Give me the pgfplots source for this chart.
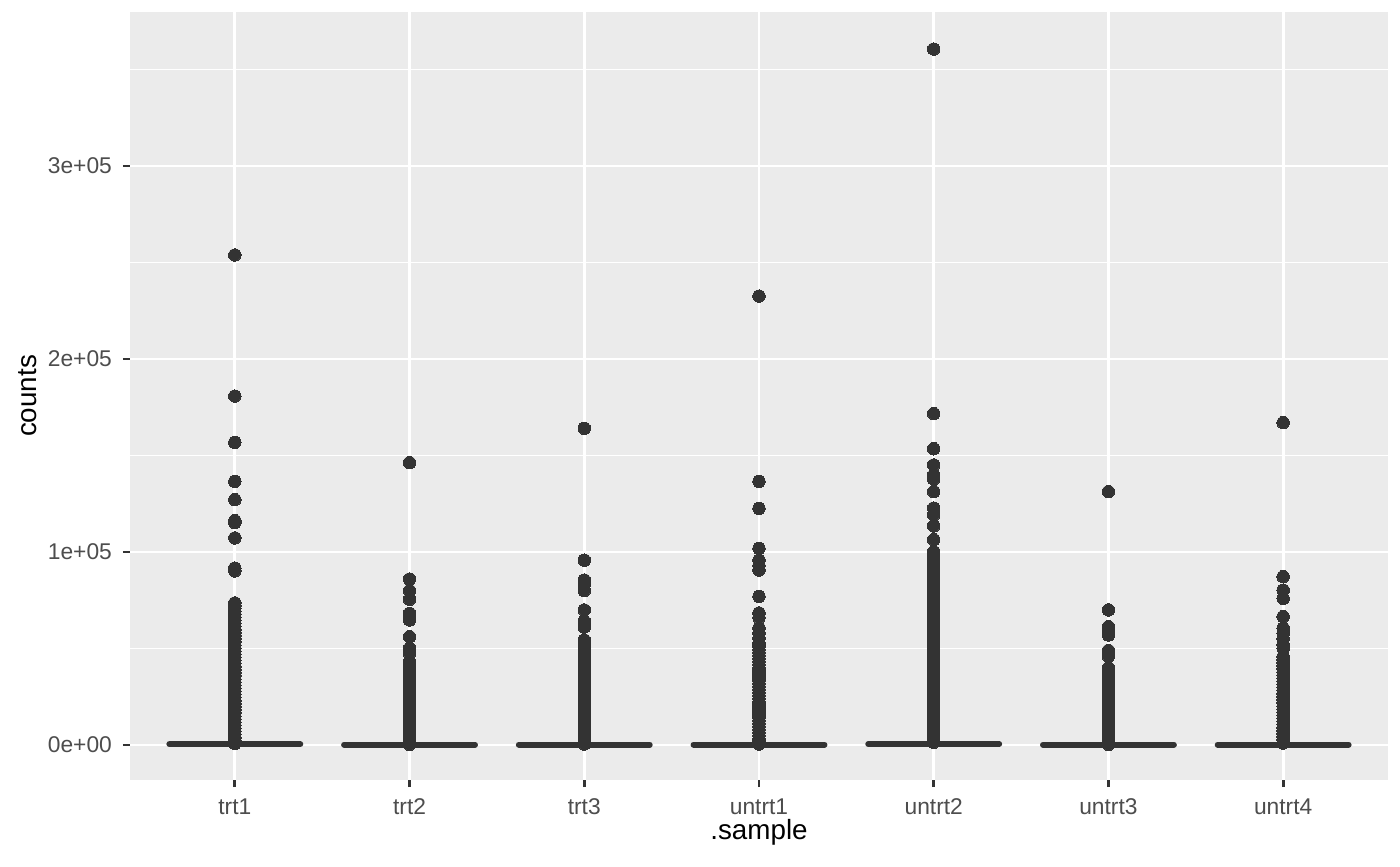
\documentclass[border=0pt]{standalone}
\usepackage{pgfplots}
\pgfplotsset{compat=1.18}
\usepackage{fontspec}
\setmainfont{Liberation Sans}
\definecolor{panelbg}{HTML}{EBEBEB}
\definecolor{pt33}{HTML}{333333}
\definecolor{tick4d}{HTML}{4D4D4D}
\begin{document}
\begin{tikzpicture}
\begin{axis}[
  scale only axis,
  width=452.88pt, height=276.48pt,
  xmin=0.4, xmax=7.6,
  ymin=-18135, ymax=379793,
  axis background/.style={fill=panelbg},
  axis line style={draw=none},
  tick align=outside,
  xtick pos=bottom, ytick pos=left,
  major tick length=2.6pt,
  minor tick length=0pt,
  tick style={draw=pt33, line width=1pt},
  xtick={1,2,3,4,5,6,7},
  xticklabels={trt1,trt2,trt3,untrt1,untrt2,untrt3,untrt4},
  ytick={0,100000,200000,300000},
  yticklabels={0e+00,1e+05,2e+05,3e+05},
  minor ytick={50000,150000,250000,350000},
  scaled y ticks=false,
  xmajorgrids, ymajorgrids, yminorgrids,
  major grid style={draw=white, line width=1pt},
  minor grid style={draw=white, line width=0.5pt},
  tick label style={font=\fontsize{8.2}{9}\selectfont, text=tick4d},
  xticklabel style={yshift=-0.6pt},
  yticklabel style={xshift=-0.4pt},
  xlabel={.sample}, ylabel={counts},
  label style={font=\fontsize{10.4}{12}\selectfont, text=black},
  every axis x label/.style={at={(axis description cs:0.5,0)}, anchor=base, yshift=-21.5pt},
  every axis y label/.style={at={(axis description cs:0,0.5)}, rotate=90, anchor=center, yshift=36.7pt},
  clip=false,
]
% outliers
\addplot[only marks, mark=*, mark size=2.25pt, mark options={fill=pt33, draw=pt33, line width=0pt}] coordinates {
(1,253900) (1,180800) (1,156800) (1,136600) (1,127100) (1,116200) (1,115200) (1,107300) (1,91700) (1,90200)
(1,73600) (1,72200) (1,70800) (1,69300) (1,67800) (1,66200) (1,64600) (1,63000) (1,61400) (1,59800)
(1,58200) (1,56600) (1,55000) (1,53400) (1,51800) (1,50200) (1,48600) (1,47000) (1,45400) (1,43800)
(1,42200) (1,40600) (1,39000) (1,37400) (1,35800) (1,34200) (1,32600) (1,31000) (1,29400) (1,27800)
(1,26200) (1,24600) (1,23000) (1,21400) (1,19800) (1,18200) (1,16600) (1,15000) (1,13400) (1,11800)
(1,10200) (1,8600) (1,7000) (1,5400) (1,3800) (1,2200) (1,800)
(2,146300) (2,86000) (2,80000) (2,75500) (2,68200) (2,64800) (2,56100) (2,50100) (2,47500)
(2,43000) (2,41400) (2,39800) (2,38200) (2,36600) (2,35000) (2,33400) (2,31800) (2,30200) (2,28600)
(2,27000) (2,25400) (2,23800) (2,22200) (2,20600) (2,19000) (2,17400) (2,15800) (2,14200) (2,12600)
(2,11000) (2,9400) (2,7800) (2,6200) (2,4600) (2,3000) (2,1400) (2,300)
(3,164100) (3,95800) (3,85500) (3,83400) (3,80000) (3,70000) (3,64200) (3,63000) (3,61100)
(3,54400) (3,52800) (3,51200) (3,49600) (3,48000) (3,46400) (3,44800) (3,43200) (3,41600) (3,40000)
(3,38400) (3,36800) (3,35200) (3,33600) (3,32000) (3,30400) (3,28800) (3,27200) (3,25600) (3,24000)
(3,22400) (3,20800) (3,19200) (3,17600) (3,16000) (3,14400) (3,12800) (3,11200) (3,9600) (3,8000)
(3,6400) (3,4800) (3,3200) (3,1600) (3,500)
(4,232600) (4,136600) (4,122600) (4,101900) (4,95800) (4,93000) (4,90700) (4,77000) (4,68400) (4,66000)
(4,60600) (4,58000) (4,55400)
(4,52800) (4,51200) (4,49600) (4,48000) (4,46400) (4,44800) (4,43200) (4,41600) (4,40000) (4,38400)
(4,36800) (4,35200) (4,33600) (4,32000) (4,30400) (4,28800) (4,27200) (4,25600) (4,24000) (4,22400)
(4,20800) (4,19200) (4,17600) (4,16000) (4,14400) (4,12800) (4,11200) (4,9600) (4,8000) (4,6400)
(4,4800) (4,3200) (4,1600) (4,500)
(5,360600) (5,171700) (5,153500) (5,145100) (5,139900) (5,137800) (5,131300) (5,122800) (5,119200) (5,113500)
(5,106400) (5,100200)
(5,99000) (5,97400) (5,95800) (5,94200) (5,92600) (5,91000) (5,89400) (5,87800) (5,86200) (5,84600)
(5,83000) (5,81400) (5,79800) (5,78200) (5,76600) (5,75000) (5,73400) (5,71800) (5,70200) (5,68600)
(5,67000) (5,65400) (5,63800) (5,62200) (5,60600) (5,59000) (5,57400) (5,55800) (5,54200) (5,52600)
(5,51000) (5,49400) (5,47800) (5,46200) (5,44600) (5,43000) (5,41400) (5,39800) (5,38200) (5,36600)
(5,35000) (5,33400) (5,31800) (5,30200) (5,28600) (5,27000) (5,25400) (5,23800) (5,22200) (5,20600)
(5,19000) (5,17400) (5,15800) (5,14200) (5,12600) (5,11000) (5,9400) (5,7800) (5,6200) (5,4600)
(5,3000) (5,1400)
(6,131300) (6,70000) (6,61300) (6,59000) (6,57000) (6,49000) (6,46000)
(6,40000) (6,38400) (6,36800) (6,35200) (6,33600) (6,32000) (6,30400) (6,28800) (6,27200) (6,25600)
(6,24000) (6,22400) (6,20800) (6,19200) (6,17600) (6,16000) (6,14400) (6,12800) (6,11200) (6,9600)
(6,8000) (6,6400) (6,4800) (6,3200) (6,1600) (6,300)
(7,167000) (7,87200) (7,80300) (7,76000) (7,66500) (7,60600) (7,58000) (7,55000) (7,52000) (7,50000)
(7,45800) (7,44200) (7,42600) (7,41000) (7,39400) (7,37800) (7,36200) (7,34600) (7,33000) (7,31400)
(7,29800) (7,28200) (7,26600) (7,25000) (7,23400) (7,21800) (7,20200) (7,18600) (7,17000) (7,15400)
(7,13800) (7,12200) (7,10600) (7,9000) (7,7400) (7,5800) (7,4200) (7,2600) (7,1000)
};
% flattened boxes (quartiles and median all near zero)
\addplot[draw=pt33, line width=2.1pt, line cap=round] coordinates {(0.625,400) (1.375,400)};
\addplot[draw=pt33, line width=2.1pt, line cap=round] coordinates {(1.625,200) (2.375,200)};
\addplot[draw=pt33, line width=2.1pt, line cap=round] coordinates {(2.625,200) (3.375,200)};
\addplot[draw=pt33, line width=2.1pt, line cap=round] coordinates {(3.625,200) (4.375,200)};
\addplot[draw=pt33, line width=2.1pt, line cap=round] coordinates {(4.625,500) (5.375,500)};
\addplot[draw=pt33, line width=2.1pt, line cap=round] coordinates {(5.625,150) (6.375,150)};
\addplot[draw=pt33, line width=2.1pt, line cap=round] coordinates {(6.625,200) (7.375,200)};
\end{axis}
\pgfresetboundingbox
\useasboundingbox (current axis.south west) ++(-46.8pt,-30.96pt) rectangle ++(504pt,311.76pt);
\end{tikzpicture}
\end{document}
